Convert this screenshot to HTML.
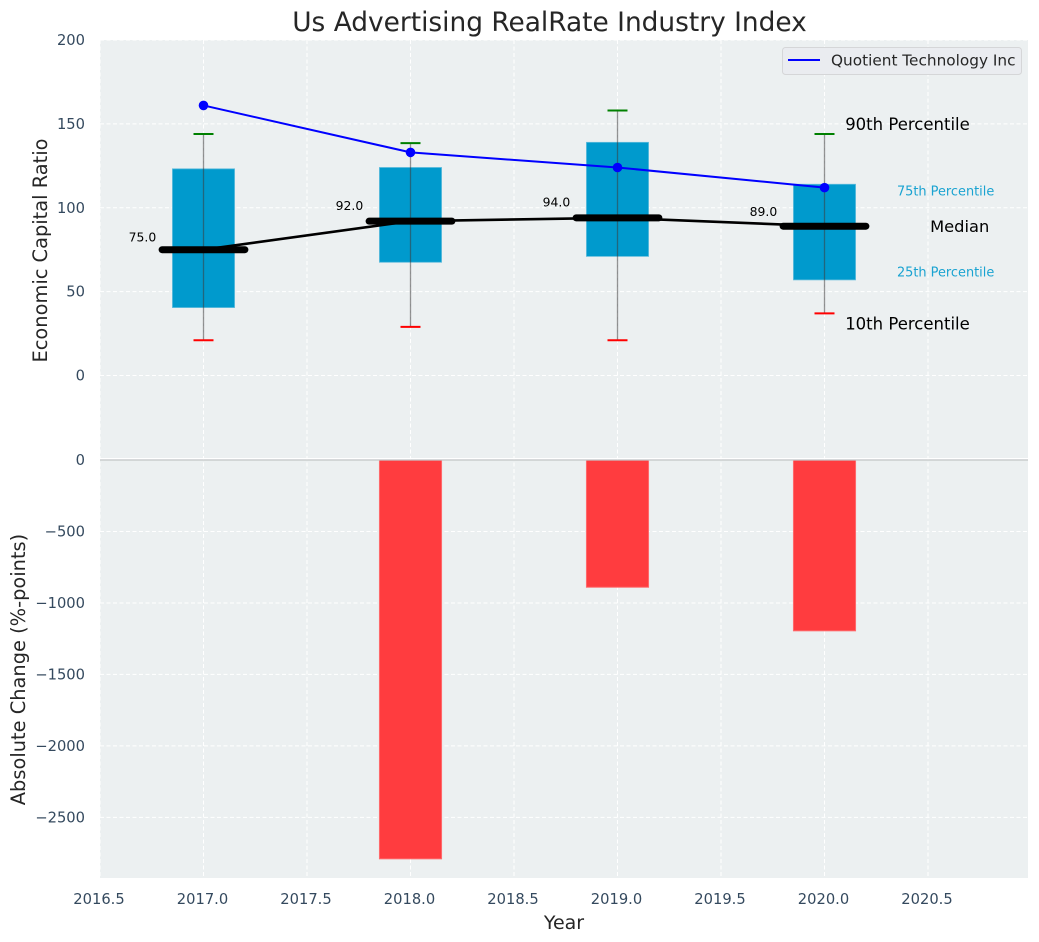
<!DOCTYPE html>
<html lang="en">
<head>
<meta charset="utf-8">
<title>Us Advertising RealRate Industry Index</title>
<style>
html,body{margin:0;padding:0;background:#fff;width:1039px;height:942px;overflow:hidden}
svg{display:block;font-family:"DejaVu Sans","Liberation Sans",sans-serif}
</style>
</head>
<body>
<svg id="chart" width="1039" height="942" viewBox="0 0 1039 942" xmlns="http://www.w3.org/2000/svg">
  <rect x="100" y="40" width="928" height="838" fill="#ecf0f1"/>
  <g id="grid"></g>
  <g id="bars"></g>
  <g id="boxes"></g>
  <g id="lines"></g>
  <g id="ticks" font-size="14.7" fill="#34495e"></g>
  <g id="notes"></g>
  <text x="549.5" y="31" text-anchor="middle" font-size="26.4" fill="#262626">Us Advertising RealRate Industry Index</text>
  <text x="564" y="929" text-anchor="middle" font-size="19" fill="#262626">Year</text>
  <text transform="translate(47,250.500) rotate(-90)" text-anchor="middle" font-size="19.4" fill="#262626">Economic Capital Ratio</text>
  <text transform="translate(25,669.500) rotate(-90)" text-anchor="middle" font-size="19.4" fill="#262626">Absolute Change (%-points)</text>
  <g>
    <rect x="782.500" y="47.500" width="239" height="27" rx="3" fill="#eaecf0" stroke="#d5d6d8"/>
    <line x1="788" y1="60" x2="820" y2="60" stroke="#0000ff" stroke-width="2"/>
    <text x="831" y="65.500" font-size="15.3" fill="#262626">Quotient Technology Inc</text>
  </g>
</svg>
<script>
const years = [2017, 2018, 2019, 2020];
const p90 = [144, 138.5, 158, 144];
const p75 = [123.2, 124, 139, 114];
const medians = [75, 92, 94, 89];
const p25 = [40.5, 67.5, 71, 57];
const p10 = [21, 29, 21, 37];
const company = [161, 133, 124, 112];
const changes = [0, -2790, -890, -1195];
const xTicks = ['2016.5', '2017.0', '2017.5', '2018.0', '2018.5', '2019.0', '2019.5', '2020.0', '2020.5'];
const upperTicks = ['200', '150', '100', '50', '0'];
const lowerTicks = ['0', '−500', '−1000', '−1500', '−2000', '−2500'];
const annotationLabels = ['90th Percentile', '75th Percentile', 'Median', '25th Percentile', '10th Percentile'];
const annotationValues = [150, 110, 89, 62, 31];

const NS = 'http://www.w3.org/2000/svg';
const X = v => 100 + (v - 2016.5) * 207;
const YU = v => 375.5 - v * 1.6775;
const YL = v => 460 - v * 0.14295;
const BW = 0.15;

function mk(parent, tag, attrs, text) {
  const el = document.createElementNS(NS, tag);
  Object.keys(attrs).forEach(k => el.setAttribute(k, attrs[k]));
  if (text !== undefined) el.textContent = text;
  parent.appendChild(el);
  return el;
}
const num = s => parseFloat(s.replace('−', '-'));
const grid = document.getElementById('grid');
const ticks = document.getElementById('ticks');
const bars = document.getElementById('bars');
const boxes = document.getElementById('boxes');
const lines = document.getElementById('lines');
const notes = document.getElementById('notes');

xTicks.forEach(t => {
  const gl = mk(grid, 'line', {x1: X(num(t)), x2: X(num(t)), y1: 40, y2: 878, stroke: '#fff', 'stroke-width': 1, 'stroke-dasharray': '4 2.5'});
  
  
  const tl = mk(ticks, 'text', {x: X(num(t)) - 1, y: 904, 'text-anchor': 'middle'}, t);
  
  
});
upperTicks.forEach(t => {
  const gl = mk(grid, 'line', {x1: 100, x2: 1028, y1: YU(num(t)), y2: YU(num(t)), stroke: '#fff', 'stroke-width': 1, 'stroke-dasharray': '4 2.5'});
  
  
  const tl = mk(ticks, 'text', {x: 85, y: YU(num(t)) + 5, 'text-anchor': 'end'}, t);
  
  
});
lowerTicks.forEach(t => {
  const gl = mk(grid, 'line', {x1: 100, x2: 1028, y1: YL(num(t)), y2: YL(num(t)), stroke: '#fff', 'stroke-width': 1, 'stroke-dasharray': '4 2.5'});
  
  
  const tl = mk(ticks, 'text', {x: 85, y: YL(num(t)) + 5, 'text-anchor': 'end'}, t);
  
  
});
const sep = mk(grid, 'line', {x1: 100, x2: 1028, y1: 458.6, y2: 458.6, stroke: '#fff', 'stroke-width': 1.2});



years.forEach((yr, i) => {
  const h = YL(changes[i]) - YL(0);
  if (h > 0) {
    const b = mk(bars, 'rect', {x: X(yr - BW), y: YL(0), width: X(yr + BW) - X(yr - BW), height: h, fill: '#ff3c3f', stroke: '#ff6a6c', 'stroke-width': 1});
    
    
  }
});
const zero = mk(bars, 'line', {x1: 100, x2: 1028, y1: YL(0), y2: YL(0), stroke: '#c3c5c7', 'stroke-width': 1.2});



const medianPath = mk(lines, 'polyline', {points: years.map((yr, i) => X(yr) + ',' + YU(medians[i])).join(' '), fill: 'none', stroke: '#000', 'stroke-width': 2.6});



years.forEach((yr, i) => {
  const b = mk(boxes, 'rect', {x: X(yr - BW), y: YU(p75[i]), width: X(yr + BW) - X(yr - BW), height: YU(p25[i]) - YU(p75[i]), fill: '#009acd', stroke: '#5dbbdc', 'stroke-width': 0.8});
  
  
  const w = mk(lines, 'line', {x1: X(yr), x2: X(yr), y1: YU(p90[i]), y2: YU(p10[i]), stroke: '#3c3c3c', 'stroke-opacity': 0.55, 'stroke-width': 1.3});
  
  
  const hi = mk(lines, 'line', {x1: X(yr) - 10, x2: X(yr) + 10, y1: YU(p90[i]), y2: YU(p90[i]), stroke: '#008000', 'stroke-width': 2});
  
  
  const lo = mk(lines, 'line', {x1: X(yr) - 10, x2: X(yr) + 10, y1: YU(p10[i]), y2: YU(p10[i]), stroke: '#ff0000', 'stroke-width': 2});
  
  
  const m = mk(lines, 'line', {x1: X(yr - 0.2), x2: X(yr + 0.2), y1: YU(medians[i]), y2: YU(medians[i]), stroke: '#000', 'stroke-width': 7, 'stroke-linecap': 'round'});
  
  
  const lab = mk(notes, 'text', {x: X(yr - 0.295), y: YU(medians[i] * 1.1) + 4.5, 'font-size': 12.4, 'text-anchor': 'middle', fill: '#000'}, medians[i].toFixed(1));
  
  
});

const companyPath = mk(lines, 'polyline', {points: years.map((yr, i) => X(yr) + ',' + YU(company[i])).join(' '), fill: 'none', stroke: '#0000ff', 'stroke-width': 2});


years.forEach((yr, i) => {
  const d = mk(lines, 'circle', {cx: X(yr), cy: YU(company[i]), r: 4.8, fill: '#0000ff'});
  
  
});

const annotationX = [2020.1, 2020.35, 2020.51, 2020.35, 2020.1];
const annotationSize = [16.5, 12.9, 16.3, 12.9, 16.5];
const annotationColor = ['#000', '#1aa3d1', '#000', '#1aa3d1', '#000'];
annotationLabels.forEach((t, i) => {
  const a = mk(notes, 'text', {x: X(annotationX[i]), y: YU(annotationValues[i]) + annotationSize[i] * 0.37, 'font-size': annotationSize[i], fill: annotationColor[i]}, t);
  
  
});
</script>
</body>
</html>
